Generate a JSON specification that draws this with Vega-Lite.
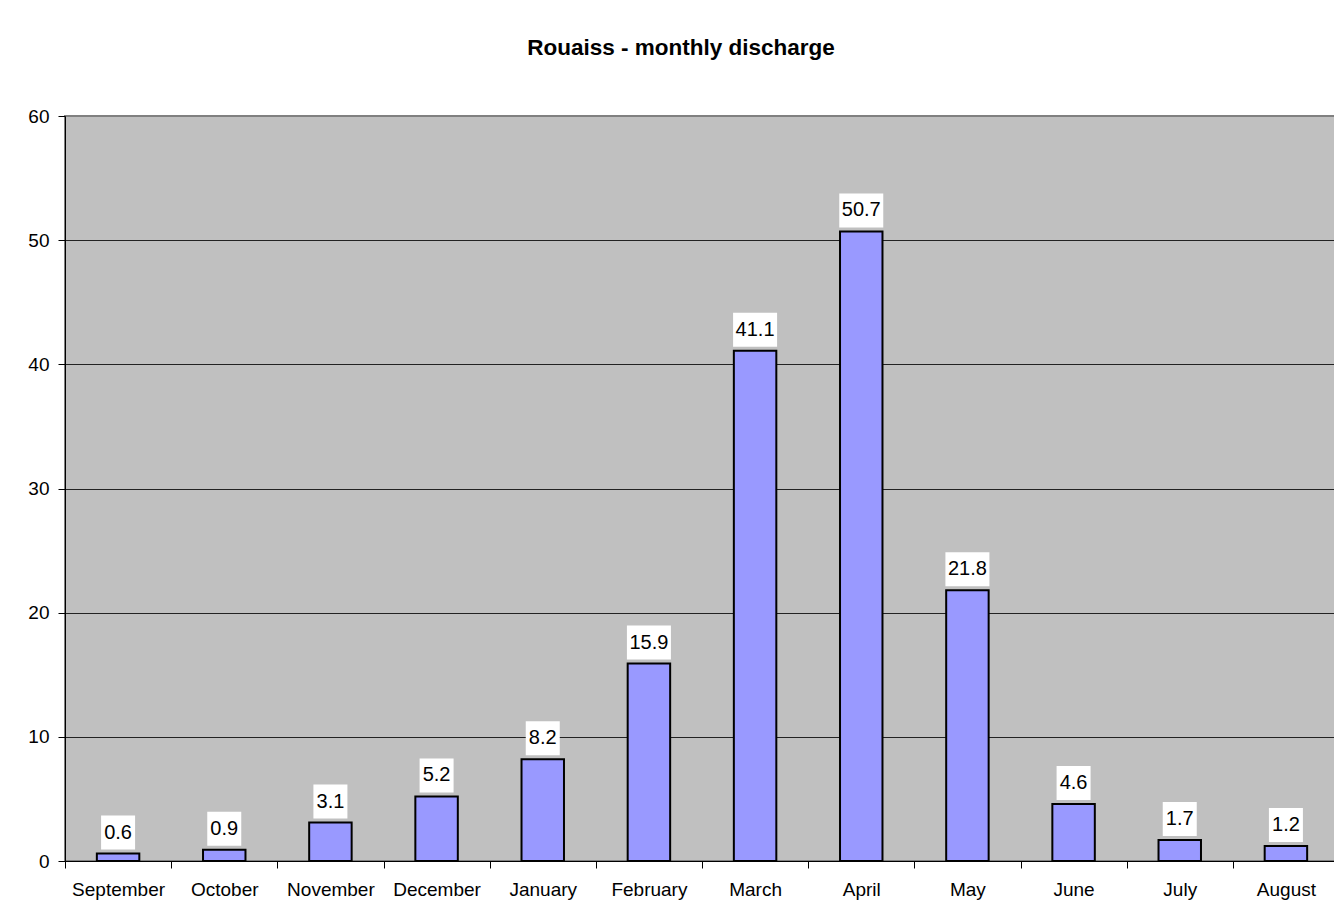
{
  "$schema": "https://vega.github.io/schema/vega-lite/v6.json",
  "autosize": "none",
  "padding": {"left": 65, "top": 116, "right": 0, "bottom": 57},
  "width": 1274,
  "height": 745,
  "background": "white",
  "title": {
    "text": "Rouaiss - monthly discharge",
    "font": "Liberation Sans",
    "fontSize": 22.5,
    "fontWeight": "bold",
    "color": "black",
    "anchor": "middle",
    "dx": -21,
    "offset": 48
  },
  "data": {
    "values": [
      {"month": "September", "discharge": 0.6},
      {"month": "October", "discharge": 0.9},
      {"month": "November", "discharge": 3.1},
      {"month": "December", "discharge": 5.2},
      {"month": "January", "discharge": 8.2},
      {"month": "February", "discharge": 15.9},
      {"month": "March", "discharge": 41.1},
      {"month": "April", "discharge": 50.7},
      {"month": "May", "discharge": 21.8},
      {"month": "June", "discharge": 4.6},
      {"month": "July", "discharge": 1.7},
      {"month": "August", "discharge": 1.2}
    ]
  },
  "encoding": {
    "x": {
      "field": "month",
      "type": "nominal",
      "sort": null,
      "scale": {"paddingInner": 0, "paddingOuter": 0},
      "axis": {
        "title": null,
        "labelAngle": 0,
        "tickBand": "extent",
        "domainColor": "black",
        "domainWidth": 1,
        "tickColor": "black",
        "tickSize": 7,
        "labelPadding": 12,
        "labelFont": "Liberation Sans",
        "labelFontSize": 19,
        "labelColor": "black"
      }
    }
  },
  "layer": [
    {
      "mark": {"type": "bar", "width": {"band": 0.4}, "fill": "#9999FF", "stroke": "black", "strokeWidth": 2},
      "encoding": {
        "y": {
          "field": "discharge",
          "type": "quantitative",
          "scale": {"domain": [0, 60], "nice": false},
          "axis": {
            "title": null,
            "values": [0, 10, 20, 30, 40, 50, 60],
            "grid": true,
            "gridColor": {"condition": {"test": "datum.value === 60", "value": "#808080"}, "value": "#222222"},
            "gridWidth": 1,
            "domainColor": "black",
            "tickColor": "black",
            "tickSize": 7,
            "labelPadding": 9,
            "labelFont": "Liberation Sans",
            "labelFontSize": 19,
            "labelColor": "black"
          }
        }
      }
    },
    {
      "mark": {
        "type": "bar",
        "fill": "white",
        "width": {"expr": "10 * length(format(datum.discharge, '.1f')) + 4"},
        "yOffset": -38,
        "y2Offset": -4
      },
      "encoding": {
        "y": {"field": "discharge", "type": "quantitative"},
        "y2": {"field": "discharge"}
      }
    },
    {
      "mark": {
        "type": "text",
        "font": "Liberation Sans",
        "fontSize": 20,
        "color": "black",
        "baseline": "middle",
        "align": "center",
        "yOffset": -21
      },
      "encoding": {
        "y": {"field": "discharge", "type": "quantitative"},
        "text": {"field": "discharge", "type": "quantitative", "format": ".1f"}
      }
    }
  ],
  "config": {
    "view": {"fill": "#C0C0C0", "stroke": "#808080", "strokeWidth": 2},
    "axis": {"domainColor": "black"}
  }
}
